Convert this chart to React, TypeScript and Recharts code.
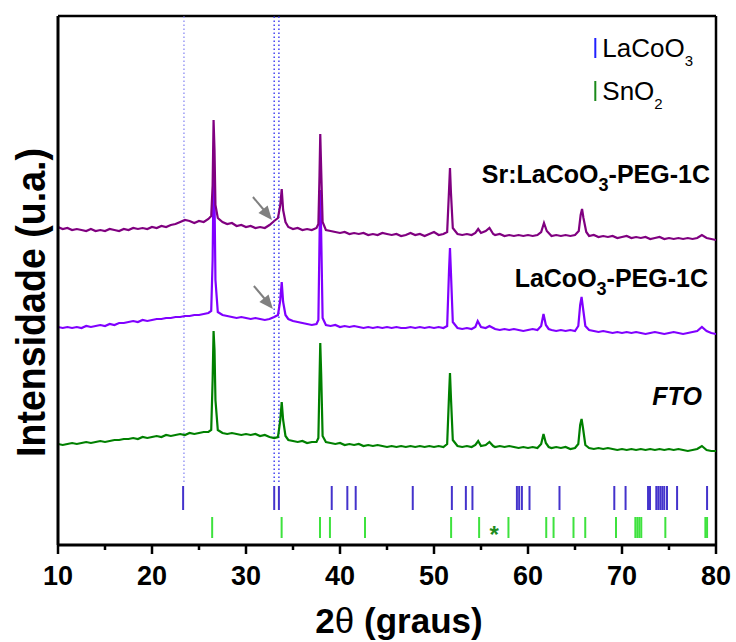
import React from 'react';
import { ComposedChart, Line, XAxis, YAxis, ReferenceLine, ReferenceDot } from 'recharts';

const FONT = "Arial, 'Liberation Sans', Helvetica, sans-serif";

// 2θ (deg), intensity (a.u., offset as plotted)
const SR_LACOO3_PEG: [number, number][] = [
  [10,318],[10.5,316],[11,317],[11.5,315],[12,316],[12.5,315],[13,314],[13.5,316],[14,314],[14.5,315],[15,314],[15.5,316],[16,315],[16.5,314],[17,316],[17.5,315],[18,317],[18.5,316],[19,317],[19.5,316],[20,318],[20.5,317],[21,319],[21.5,318],[22,320],[22.5,321],[23,323],[23.5,325],[24,324],[24.5,322],[25,324],[25.5,323],[26,326],[26.3,329],[26.45,360],[26.55,425],[26.65,395],[26.75,340],[27,327],[27.5,323],[28,321],[28.5,322],[29,319],[29.5,320],[30,318],[30.5,319],[31,317],[31.5,318],[32,317],[32.5,320],[33,324],[33.4,327],[33.65,340],[33.8,356],[33.95,335],[34.2,323],[34.5,318],[35,316],[35.5,317],[36,315],[36.5,316],[37,315],[37.5,317],[37.7,321],[37.82,370],[37.9,411],[38,375],[38.15,323],[38.5,315],[39,314],[39.5,313],[40,312],[40.5,313],[41,311],[41.5,312],[42,311],[42.5,312],[43,310],[43.5,311],[44,310],[44.5,312],[45,311],[45.5,310],[46,311],[46.5,309],[47,310],[47.5,312],[48,310],[48.5,311],[49,309],[49.5,311],[50,313],[50.5,310],[51,311],[51.4,313],[51.6,355],[51.7,377],[51.8,353],[52,317],[52.5,311],[53,310],[53.5,311],[54,310],[54.4,312],[54.7,316],[55,312],[55.5,314],[55.9,317],[56.3,311],[56.5,310],[57,311],[57.5,309],[58,310],[58.5,309],[59,310],[59.5,309],[60,310],[60.5,309],[61,310],[61.4,313],[61.7,322],[62,314],[62.5,309],[63,310],[63.5,309],[64,310],[64.5,309],[65,310],[65.4,314],[65.6,330],[65.75,336],[65.9,327],[66.2,313],[66.5,309],[67,310],[67.5,308],[68,309],[68.5,308],[69,309],[69.5,307],[70,308],[70.5,309],[71,307],[71.5,308],[72,307],[72.5,308],[73,306],[73.5,307],[74,308],[74.5,306],[75,307],[75.5,306],[76,307],[76.5,306],[77,307],[77.5,306],[78,307],[78.5,310],[79,307],[79.5,306],[80,305],
];

const LACOO3_PEG: [number, number][] = [
  [10,218],[10.5,217],[11,218],[11.5,217],[12,218],[12.5,217],[13,219],[13.5,218],[14,219],[14.5,220],[15,219],[15.5,221],[16,220],[16.5,222],[17,222],[17.5,223],[18,224],[18.5,223],[19,225],[19.5,224],[20,225],[20.5,226],[21,226],[21.5,227],[22,227],[22.5,228],[23,228],[23.5,229],[24,229],[24.5,230],[25,230],[25.5,231],[26,232],[26.3,234],[26.45,285],[26.55,370],[26.65,345],[26.75,265],[27,233],[27.5,230],[28,229],[28.5,228],[29,227],[29.5,228],[30,227],[30.5,226],[31,227],[31.5,226],[32,225],[32.5,226],[33,228],[33.4,230],[33.65,245],[33.8,263],[33.95,243],[34.2,230],[34.5,226],[35,224],[35.5,223],[36,222],[36.5,221],[37,220],[37.5,221],[37.7,225],[37.82,305],[37.9,355],[38,310],[38.15,227],[38.5,220],[39,219],[39.5,220],[40,218],[40.5,219],[41,218],[41.5,219],[42,218],[42.5,217],[43,218],[43.5,217],[44,218],[44.5,217],[45,218],[45.5,217],[46,218],[46.5,217],[47,217],[47.5,218],[48,217],[48.5,218],[49,217],[49.5,218],[50,217],[50.5,218],[51,217],[51.4,219],[51.6,275],[51.7,297],[51.8,273],[52,223],[52.5,217],[53,216],[53.5,217],[54,216],[54.4,218],[54.65,224],[55,218],[55.5,217],[55.9,219],[56.3,217],[56.5,216],[57,215],[57.5,216],[58,215],[58.5,216],[59,215],[59.5,214],[60,215],[60.5,216],[61,215],[61.4,219],[61.65,231],[61.9,220],[62.2,216],[62.5,215],[63,214],[63.5,215],[64,214],[64.5,215],[65,214],[65.35,219],[65.55,240],[65.7,248],[65.85,237],[66.1,219],[66.5,215],[67,214],[67.5,213],[68,214],[68.5,213],[69,212],[69.5,213],[70,212],[70.5,213],[71,212],[71.5,213],[72,212],[72.5,211],[73,212],[73.5,213],[74,212],[74.5,211],[75,212],[75.5,213],[76,212],[76.5,211],[77,212],[77.5,213],[78,214],[78.5,218],[79,214],[79.5,212],[80,211],
];

const FTO: [number, number][] = [
  [10,101],[10.5,100],[11,101],[11.5,102],[12,101],[12.5,102],[13,103],[13.5,102],[14,103],[14.5,104],[15,103],[15.5,104],[16,105],[16.5,105],[17,106],[17.5,106],[18,107],[18.5,106],[19,108],[19.5,107],[20,108],[20.5,109],[21,108],[21.5,110],[22,109],[22.5,110],[23,111],[23.5,110],[24,112],[24.5,111],[25,112],[25.5,113],[26,113],[26.3,115],[26.45,165],[26.55,214],[26.65,195],[26.75,145],[27,115],[27.5,112],[28,111],[28.5,112],[29,111],[29.5,110],[30,111],[30.5,110],[31,111],[31.5,109],[32,110],[32.5,108],[33,107],[33.4,108],[33.65,125],[33.8,143],[33.95,125],[34.2,109],[34.5,105],[35,104],[35.5,103],[36,104],[36.5,102],[37,103],[37.5,103],[37.7,107],[37.82,165],[37.9,202],[38,170],[38.15,109],[38.5,103],[39,102],[39.5,101],[40,102],[40.5,100],[41,101],[41.5,100],[42,101],[42.5,99],[43,100],[43.5,99],[44,100],[44.5,99],[45,98],[45.5,99],[46,98],[46.5,99],[47,98],[47.5,99],[48,98],[48.5,99],[49,98],[49.5,99],[50,98],[50.5,99],[51,98],[51.4,101],[51.6,150],[51.7,172],[51.8,148],[52,105],[52.5,99],[53,98],[53.5,99],[54,98],[54.4,100],[54.7,104],[55,99],[55.5,100],[55.9,103],[56.3,99],[56.5,98],[57,99],[57.5,98],[58,99],[58.5,98],[59,97],[59.5,98],[60,97],[60.5,98],[61,97],[61.4,101],[61.65,111],[61.9,102],[62.2,98],[62.5,97],[63,98],[63.5,97],[64,98],[64.5,96],[65,97],[65.35,101],[65.55,120],[65.7,126],[65.85,117],[66.1,100],[66.5,97],[67,96],[67.5,97],[68,96],[68.5,97],[69,96],[69.5,95],[70,96],[70.5,95],[71,96],[71.5,95],[72,96],[72.5,95],[73,96],[73.5,95],[74,96],[74.5,95],[75,96],[75.5,95],[76,96],[76.5,95],[77,94],[77.5,95],[78,96],[78.5,99],[79,95],[79.5,94],[80,94],
];

// Reference pattern positions (2θ)
const LACOO3_REF = [23.31, 33.0, 33.5, 39.12, 40.78, 41.67, 47.74, 51.9, 53.39, 54.09, 58.82, 59.06, 59.35, 60.16, 63.35, 69.18, 70.38, 72.77, 72.98, 73.65, 73.86, 74.08, 74.29, 74.5, 74.79, 75.86, 79.05];
const SNO2_REF = [26.4, 33.79, 37.87, 38.93, 42.66, 51.82, 54.8, 57.92, 61.94, 62.72, 64.84, 66.09, 69.36, 71.42, 71.63, 71.84, 72.05, 74.61, 78.87, 79.05];

const GUIDE_LINES = [23.4, 33.0, 33.5];
const X_TICKS = [10, 15, 20, 25, 30, 35, 40, 45, 50, 55, 60, 65, 70, 75, 80];
const ARROW_TIPS: [number, number][] = [[32.76, 325], [32.86, 236]];
const STAR_POS: [number, number] = [56.4, 15];

const Y_MAX = 529;

const pts = (a: [number, number][]) => a.map(([x, y]) => ({ x, y }));

const XTick = (props: any) => {
  const { x, y, payload } = props;
  const v = payload.value;
  const major = v % 10 === 0;
  return (
    <g>
      <line x1={x} x2={x} y1={y} y2={y + (major ? 9 : 5)} stroke="#000" strokeWidth={2.5} />
      {major && (
        <text x={x} y={y + 40} textAnchor="middle" fontSize={27} fontWeight="bold" fontFamily={FONT} fill="#000">
          {v}
        </text>
      )}
    </g>
  );
};

const XTitle = (props: any) => {
  const vb = props.viewBox || { x: 58, y: 545, width: 658 };
  return (
    <text x={vb.x + vb.width / 2 + 12} y={vb.y + 88} textAnchor="middle" fontSize={35} fontWeight="bold" fontFamily={FONT} fill="#000">
      2<tspan fontWeight="normal">θ</tspan> (graus)
    </text>
  );
};

const YTitle = (props: any) => {
  const vb = props.viewBox || { x: 0, y: 16, width: 58, height: 529 };
  const cx = 45;
  const cy = vb.y + vb.height / 2 + 22;
  return (
    <text
      x={cx}
      y={cy}
      transform={`rotate(-90, ${cx}, ${cy})`}
      textAnchor="middle"
      fontSize={41}
      fontWeight="bold"
      fontFamily={FONT}
      fill="#000"
      textLength={309}
      lengthAdjust="spacingAndGlyphs"
    >
      Intensidade (u.a.)
    </text>
  );
};

const Arrow = (props: any) => {
  const { cx, cy } = props;
  if (cx == null || cy == null) return <g />;
  return (
    <g>
      <line x1={cx - 19} y1={cy - 23} x2={cx - 8} y2={cy - 10} stroke="#808080" strokeWidth={2} />
      <polygon points={`${cx},${cy} ${cx - 13.5},${cy - 7} ${cx - 4.3},${cy - 14.6}`} fill="#808080" />
    </g>
  );
};

const sampleLabel = (main: string, rest: string, italic = false) => (props: any) => {
  const { cx, cy } = props;
  return (
    <text x={cx} y={cy} textAnchor="end" fontSize={25} fontWeight="bold" fontStyle={italic ? 'italic' : 'normal'} fontFamily={FONT} fill="#000">
      {main}
      {rest !== '' && (
        <>
          <tspan fontSize={18} dy={8}>3</tspan>
          <tspan fontSize={25} dy={-8}>{rest}</tspan>
        </>
      )}
    </text>
  );
};

const legendEntry = (color: string, main: string, sub: string) => (props: any) => {
  const { cx, cy } = props;
  return (
    <g>
      <line x1={cx} x2={cx} y1={cy - 19} y2={cy + 1} stroke={color} strokeWidth={2} />
      <text x={cx + 7} y={cy} fontSize={26} fontFamily={FONT} fill="#000">
        {main}
        <tspan fontSize={15} dy={9}>{sub}</tspan>
      </text>
    </g>
  );
};

const Star = (props: any) => {
  const { cx, cy } = props;
  return (
    <text x={cx} y={cy + 13} textAnchor="middle" fontSize={24} fontWeight="bold" fontFamily={FONT} fill="#1e8c1e">
      *
    </text>
  );
};

export default function App() {
  return (
    <div style={{ position: 'absolute', left: 0, top: 0, background: '#fff' }}>
      <ComposedChart width={736} height={642} margin={{ top: 16, right: 20, left: 0, bottom: 37 }}>
        <XAxis
          type="number"
          dataKey="x"
          domain={[10, 80]}
          ticks={X_TICKS}
          interval={0}
          allowDataOverflow
          tickSize={0}
          tickMargin={0}
          tickLine={false}
          tick={<XTick />}
          axisLine={{ stroke: '#000', strokeWidth: 3 }}
          height={60}
          label={{ content: XTitle }}
        />
        <YAxis
          type="number"
          dataKey="y"
          domain={[0, Y_MAX]}
          allowDataOverflow
          width={58}
          tick={false}
          tickLine={false}
          axisLine={{ stroke: '#000', strokeWidth: 3 }}
          label={{ content: YTitle }}
        />
        <ReferenceLine y={Y_MAX} stroke="#000" strokeWidth={2.5} />
        <ReferenceLine x={80} stroke="#000" strokeWidth={2.5} />

        {GUIDE_LINES.map((g, i) => (
          <ReferenceLine
            key={'g' + i}
            segment={[{ x: g, y: 63 }, { x: g, y: Y_MAX }]}
            stroke={i === 0 ? '#9a9af5' : '#4646f0'}
            strokeWidth={1.5}
            strokeDasharray="1.5 2.5"
          />
        ))}

        {LACOO3_REF.map((p, i) => (
          <ReferenceLine key={'l' + i} segment={[{ x: p, y: 35 }, { x: p, y: 59 }]} stroke="#4433cc" strokeWidth={2} />
        ))}
        {SNO2_REF.map((p, i) => (
          <ReferenceLine key={'s' + i} segment={[{ x: p, y: 7 }, { x: p, y: 28 }]} stroke="#3ee23e" strokeWidth={2} />
        ))}

        <Line data={pts(FTO)} dataKey="y" type="linear" stroke="#008000" strokeWidth={2.2} dot={false} isAnimationActive={false} />
        <Line data={pts(LACOO3_PEG)} dataKey="y" type="linear" stroke="#8000ff" strokeWidth={2.2} dot={false} isAnimationActive={false} />
        <Line data={pts(SR_LACOO3_PEG)} dataKey="y" type="linear" stroke="#800080" strokeWidth={2.2} dot={false} isAnimationActive={false} />

        {ARROW_TIPS.map(([x, y], i) => (
          <ReferenceDot key={'a' + i} x={x} y={y} r={0} shape={Arrow} />
        ))}

        <ReferenceDot x={STAR_POS[0]} y={STAR_POS[1]} r={0} shape={Star} />

        <ReferenceDot x={79.36} y={362} r={0} shape={sampleLabel('Sr:LaCoO', '-PEG-1C')} />
        <ReferenceDot x={79.15} y={258} r={0} shape={sampleLabel('LaCoO', '-PEG-1C')} />
        <ReferenceDot x={78.5} y={140} r={0} shape={sampleLabel('FTO', '', true)} />

        <ReferenceDot x={67.16} y={488} r={0} shape={legendEntry('#2020ff', 'LaCoO', '3')} />
        <ReferenceDot x={67.16} y={445} r={0} shape={legendEntry('#1a8a1a', 'SnO', '2')} />
      </ComposedChart>
    </div>
  );
}
